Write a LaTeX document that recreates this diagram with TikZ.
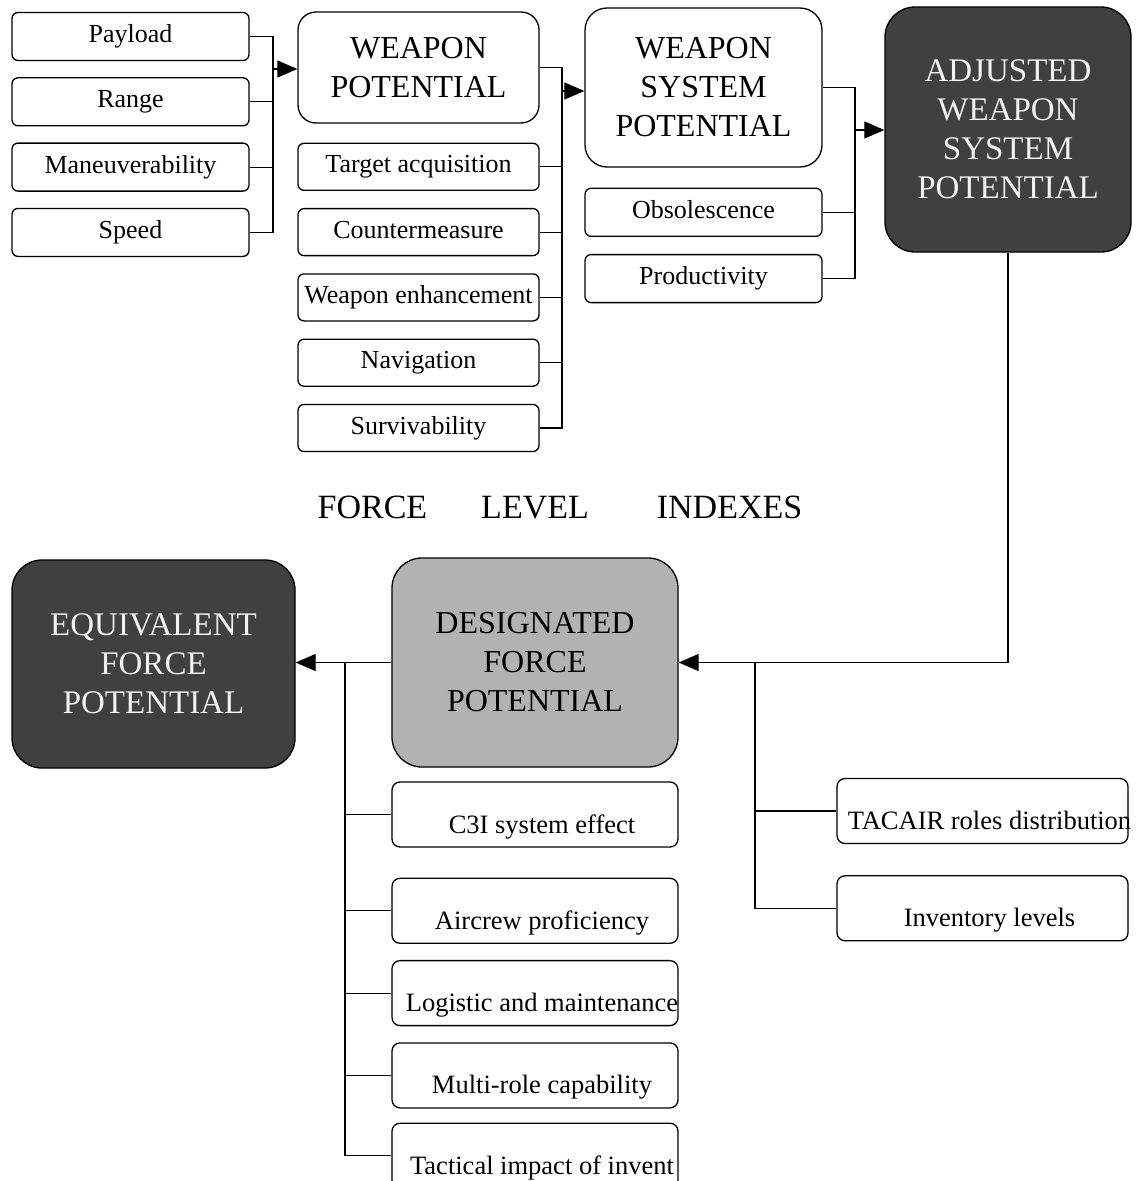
\documentclass[tikz,border=0pt]{standalone}
\usepackage{fontspec}
\setmainfont{Liberation Serif}
\usetikzlibrary{arrows.meta, positioning}
\newcommand{\lowtext}[1]{\makebox[0pt]{\hspace*{14pt}#1}}

\begin{document}
\begin{tikzpicture}[
  x=1pt, y=-1pt,
  node distance=16pt,
  line width=1.3pt,
  item/.style={draw, rounded corners=6pt, minimum width=237pt, minimum height=48pt,
               inner sep=0pt, text height=18pt, text depth=6pt,
               font=\fontsize{26}{30}\selectfont},
  big/.style={draw, rounded corners=18pt, align=center, inner sep=0pt,
              font=\fontsize{32}{39}\selectfont},
  dark/.style={big, rounded corners=30pt, fill=black!75, text=black!5,
               font=\fontsize{33}{39}\selectfont},
  low/.style={draw, rounded corners=8pt, minimum width=#1, minimum height=65pt,
              inner sep=0pt, text height=43pt, text depth=6pt,
              font=\fontsize{26.5}{30}\selectfont},
  link/.style={line width=1.2pt},
  arr/.style={link, -{Triangle[length=20pt, width=17pt]}}
]
\useasboundingbox (0,0) rectangle (1136,1181);

\node[item] (pay) at (130.5,36.5) {Payload};
\node[item, below=of pay] (rng) {Range};
\node[item, below=of rng] (man) {Maneuverability};
\node[item, below=of man] (spd) {Speed};

\node[big, minimum width=241pt, minimum height=111pt] (wp) at (418.5,67.5) {WEAPON\\POTENTIAL};
\node[item, minimum width=241pt, minimum height=47pt, below=19pt of wp] (tgt) {Target acquisition};
\node[item, minimum width=241pt, minimum height=47pt, below=17pt of tgt] (cnt) {Countermeasure};
\node[item, minimum width=241pt, minimum height=47pt, below=17pt of cnt] (wen) {Weapon enhancement};
\node[item, minimum width=241pt, minimum height=47pt, below=17pt of wen] (nav) {Navigation};
\node[item, minimum width=241pt, minimum height=47pt, below=17pt of nav] (srv) {Survivability};

\node[big, rounded corners=22pt, minimum width=237pt, minimum height=159pt] (wsp) at (703.5,87.5) {WEAPON\\SYSTEM\\POTENTIAL};
\node[item, below=20pt of wsp] (obs) {Obsolescence};
\node[item, below=17pt of obs] (prd) {Productivity};

\node[dark, minimum width=246pt, minimum height=245pt] (adj) at (1008,129.5) {ADJUSTED\\WEAPON\\SYSTEM\\POTENTIAL};

\node[font=\fontsize{34}{40}\selectfont, anchor=base west, inner sep=0pt] (title) at (317,518)
  {FORCE\hspace{54pt}LEVEL\hspace{68pt}INDEXES};

\node[big, rounded corners=30pt, fill=black!30, minimum width=286pt, minimum height=209pt] (dfp) at (535,662.5) {DESIGNATED\\FORCE\\POTENTIAL};
\node[dark, minimum width=283pt, minimum height=208pt] (efp) at (153.5,664) {EQUIVALENT\\FORCE\\POTENTIAL};

\node[low=286pt] (c3i) at (535,814.5) {\lowtext{C3I system effect}};
\node[low=286pt, below=30pt of c3i] (air) {\lowtext{Aircrew proficiency}};
\node[low=286pt, below=of air] (lgs) {\lowtext{Logistic and maintenance}};
\node[low=286pt, below=of lgs] (mrc) {\lowtext{Multi-role capability}};
\node[low=286pt, below=14pt of mrc] (tci) {\lowtext{Tactical impact of invent}};

\node[low=291pt] (tac) at (982.5,811) {\lowtext{TACAIR roles distribution}};
\node[low=291pt, below=31pt of tac] (inv) {\lowtext{Inventory levels}};

\coordinate (j1) at (273,69);
\draw[link] (pay) -| (j1);
\draw[link] (spd) -| (j1);
\draw[link] (rng) -- (rng -| j1);
\draw[link] (man) -- (man -| j1);
\draw[arr] (j1) -- (j1 -| wp.west);

\coordinate (j2) at (562,91);
\draw[link] (wp.east) -| (j2);
\draw[link] (srv) -| (j2);
\draw[link] (tgt) -- (tgt -| j2);
\draw[link] (cnt) -- (cnt -| j2);
\draw[link] (wen) -- (wen -| j2);
\draw[link] (nav) -- (nav -| j2);
\draw[arr] (j2) -- (j2 -| wsp.west);

\coordinate (j3) at (855,130);
\draw[link] (wsp.east) -| (j3);
\draw[link] (prd) -| (j3);
\draw[link] (obs) -- (obs -| j3);
\draw[arr] (j3) -- (j3 -| adj.west);

\draw[arr] (adj) |- (dfp);
\coordinate (j4) at (755,662.5);
\draw[link] (j4) |- (inv);
\draw[link] (tac) -- (tac -| j4);

\draw[arr] (dfp) -- (dfp -| efp.east);
\coordinate (j5) at (345,662.5);
\draw[link] (j5) |- (tci);
\draw[link] (c3i) -- (c3i -| j5);
\draw[link] (air) -- (air -| j5);
\draw[link] (lgs) -- (lgs -| j5);
\draw[link] (mrc) -- (mrc -| j5);
\end{tikzpicture}
\end{document}
